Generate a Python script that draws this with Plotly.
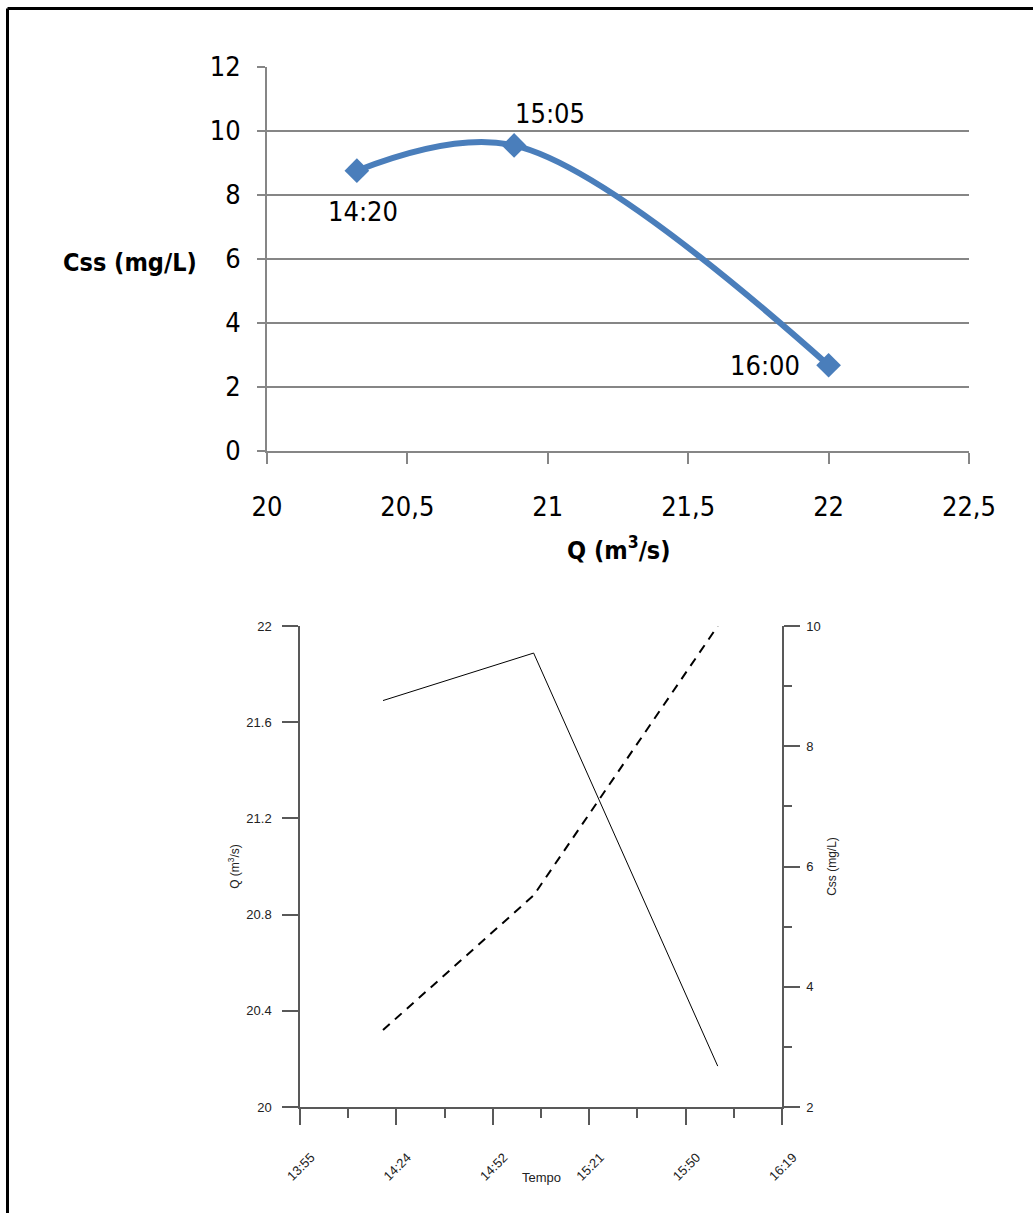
import plotly.graph_objects as go

# ---- data ----
times = ["14:20", "15:05", "16:00"]
q_values = [20.32, 20.88, 22.0]          # Q (m3/s)
css_values = [8.76, 9.55, 2.68]          # Css (mg/L)
time_stamps = ["2000-01-01 " + t for t in times]

W, H = 1033, 1213
NARROW = "Liberation Sans Narrow, DejaVu Sans Condensed, Arial Narrow, sans-serif"
ARIAL = "Liberation Sans, Arial, sans-serif"
BLUE = "#4A7EBB"

def px_x(v):
    return v / W

def px_y(v):
    return 1 - v / H

fig = go.Figure()

# ---- top chart: Css vs Q ----
fig.add_trace(go.Scatter(
    x=q_values, y=css_values, mode="lines+markers",
    line=dict(color=BLUE, width=6, shape="spline", smoothing=1.0),
    marker=dict(symbol="diamond", size=19, color=BLUE),
    xaxis="x", yaxis="y", showlegend=False, hoverinfo="skip"))

# ---- bottom chart: time series ----
fig.add_trace(go.Scatter(
    x=time_stamps, y=q_values, mode="lines",
    line=dict(color="black", width=2, dash="9px,7px"),
    xaxis="x2", yaxis="y2", showlegend=False, hoverinfo="skip"))
fig.add_trace(go.Scatter(
    x=time_stamps, y=css_values, mode="lines",
    line=dict(color="black", width=1),
    xaxis="x2", yaxis="y3", showlegend=False, hoverinfo="skip"))

label_offsets = [(6, -41), (36, 32), (-64, 0)]
annotations = []
for t, qv, cv, (dx, dy) in zip(times, q_values, css_values, label_offsets):
    annotations.append(dict(x=qv, y=cv, xref="x", yref="y", text=t, showarrow=False,
                            xshift=dx, yshift=dy,
                            font=dict(family=NARROW, size=27, color="black")))

annotations += [
    dict(x=px_x(130), y=px_y(262), xref="paper", yref="paper", text="<b>Css (mg/L)</b>",
         xanchor="center", yanchor="middle",
         showarrow=False, font=dict(family=NARROW, size=25, color="black")),
    dict(x=px_x(619), y=px_y(548), xref="paper", yref="paper", text="<b>Q (m<sup>3</sup>/s)</b>",
         xanchor="center", yanchor="middle",
         showarrow=False, font=dict(family=NARROW, size=25, color="black")),
    dict(x=px_x(541), y=px_y(1177), xref="paper", yref="paper", text="Tempo",
         xanchor="center", yanchor="middle",
         showarrow=False, font=dict(family=ARIAL, size=13, color="#222")),
]

AX = "#595959"
fig.update_layout(
    width=W, height=H, margin=dict(l=0, r=0, t=0, b=0, autoexpand=False),
    paper_bgcolor="white", plot_bgcolor="white",
    xaxis=dict(domain=[px_x(267), px_x(969)], anchor="y", range=[20, 22.5], automargin=False,
               tickvals=[20, 20.5, 21, 21.5, 22, 22.5],
               ticktext=["20", "20,5", "21", "21,5", "22", "22,5"],
               showline=True, linecolor="#868686", linewidth=2,
               ticks="outside", ticklen=11, tickcolor="#868686", tickwidth=2,
               showgrid=False, zeroline=False, ticklabelstandoff=20,
               tickfont=dict(family=NARROW, size=27, color="black")),
    yaxis=dict(domain=[px_y(451), px_y(67)], anchor="x", range=[0, 12], automargin=False,
               tickvals=[0, 2, 4, 6, 8, 10, 12],
               showline=True, linecolor="#868686", linewidth=2,
               ticks="outside", ticklen=8, tickcolor="#868686", tickwidth=2,
               showgrid=True, gridcolor="#868686", gridwidth=2, zeroline=False,
               ticklabelstandoff=11,
               tickfont=dict(family=NARROW, size=27, color="black")),
    xaxis2=dict(domain=[px_x(300), px_x(782)], anchor="y2", type="date", automargin=False,
                range=["2000-01-01 13:55:12", "2000-01-01 16:19:12"],
                tick0="2000-01-01 13:55:12", dtick=1728000, tickformat="%H:%M",
                tickangle=-45, showline=True, linecolor=AX, linewidth=1.5,
                ticks="outside", ticklen=16, tickcolor=AX, tickwidth=1.5,
                minor=dict(dtick=864000, tick0="2000-01-01 13:55:12", ticks="outside",
                           ticklen=9, tickcolor=AX, tickwidth=1.5, showgrid=False),
                showgrid=False, zeroline=False, ticklabelshift=11, ticklabelstandoff=20,
                tickfont=dict(family=ARIAL, size=13, color="#222")),
    yaxis2=dict(domain=[px_y(1107), px_y(626)], anchor="x2", range=[20, 22], automargin=False,
                tickvals=[20, 20.4, 20.8, 21.2, 21.6, 22],
                ticktext=["20", "20.4", "20.8", "21.2", "21.6", "22"],
                showline=True, linecolor=AX, linewidth=1.5,
                ticks="outside", ticklen=16, tickcolor=AX, tickwidth=1.5,
                showgrid=False, zeroline=False, ticklabelstandoff=8,
                tickfont=dict(family=ARIAL, size=13, color="#222"),
                title=dict(text="Q (m<sup>3</sup>/s)", standoff=4,
                           font=dict(family=ARIAL, size=12, color="#222"))),
    yaxis3=dict(domain=[px_y(1107), px_y(626)], anchor="x2", overlaying="y2", side="right",
                range=[2, 10], tickvals=[2, 4, 6, 8, 10], automargin=False,
                showline=True, linecolor=AX, linewidth=1.5,
                ticks="outside", ticklen=16, tickcolor=AX, tickwidth=1.5,
                minor=dict(dtick=1, tick0=1, ticks="outside", ticklen=8, tickcolor=AX,
                           tickwidth=1.5, showgrid=False),
                showgrid=False, zeroline=False, ticklabelstandoff=4,
                tickfont=dict(family=ARIAL, size=13, color="#222"),
                title=dict(text="Css (mg/L)", standoff=8,
                           font=dict(family=ARIAL, size=12, color="#222"))),
    annotations=annotations,
    shapes=[
        dict(type="line", xref="paper", yref="paper", x0=px_x(7.5), x1=1.02,
             y0=px_y(8.5), y1=px_y(8.5), line=dict(color="black", width=3)),
        dict(type="line", xref="paper", yref="paper", x0=px_x(7.5), x1=px_x(7.5),
             y0=px_y(8.5), y1=-0.02, line=dict(color="black", width=3)),
    ],
)

fig.write_html("out.html")
